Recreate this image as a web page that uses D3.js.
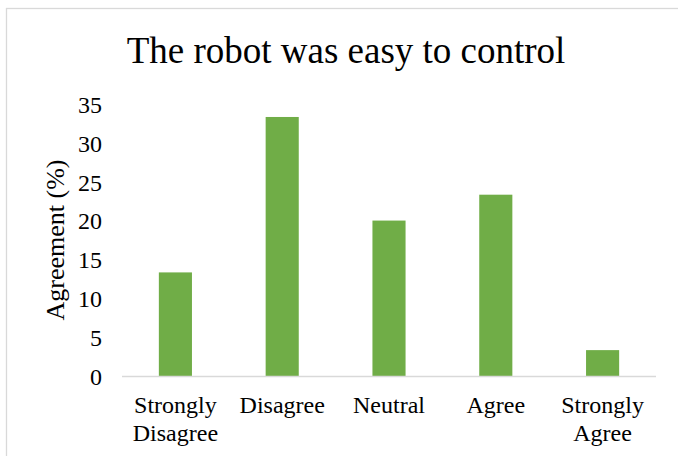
<!DOCTYPE html>
<html><head><meta charset="utf-8">
<script src="https://cdn.jsdelivr.net/npm/d3@7"></script>
<style>html,body{margin:0;padding:0;background:#fff;}svg{display:block;}</style>
</head><body>
<script>
const categories = [["Strongly","Disagree"],["Disagree"],["Neutral"],["Agree"],["Strongly","Agree"]];
const values = [13.33, 33.33, 20, 23.33, 3.33];
const yTicks = [0,5,10,15,20,25,30,35];
const title = "The robot was easy to control";
const yLabel = "Agreement (%)";

const W = 678, H = 456;
const svg = d3.select("body").append("svg").attr("width", W).attr("height", H);
const font = "Liberation Serif";

svg.append("rect").attr("x",6.5).attr("y",8.5).attr("width",W+10).attr("height",H+10)
  .attr("fill","#fff").attr("stroke","#d9d9d9").attr("stroke-width",1.3);

const x = d3.scaleBand().domain(d3.range(values.length)).range([122,656]).paddingInner(0.69).paddingOuter(0.345);
const y = d3.scaleLinear().domain([0,35]).range([376,104]);

svg.append("text").attr("x",346).attr("y",63).attr("text-anchor","middle")
  .style("font-family",font).attr("font-size",37).attr("fill","#000").text(title);

svg.selectAll("rect.bar").data(values).enter().append("rect").attr("class","bar")
  .attr("x",(d,i)=>x(i)).attr("width",x.bandwidth())
  .attr("y",d=>y(d)).attr("height",d=>y(0)-y(d)).attr("fill","#70AD47");

const yAxis = d3.axisLeft(y).tickValues(yTicks).tickSize(0).tickPadding(0);
const gy = svg.append("g").attr("transform","translate(102,0)").call(yAxis);
gy.select(".domain").remove();
gy.selectAll("text").style("font-family",font).attr("font-size",24).attr("fill","#000").attr("dy","0.35em");

svg.append("line").attr("x1",122).attr("x2",656).attr("y1",y(0)+0.5).attr("y2",y(0)+0.5)
  .attr("stroke","#d9d9d9").attr("stroke-width",1.5);

const gx = svg.append("g");
categories.forEach((lines,i)=>{
  const t = gx.append("text").attr("text-anchor","middle").style("font-family",font)
    .attr("font-size",24).attr("fill","#000");
  lines.forEach((ln,j)=>{
    t.append("tspan").attr("x",x(i)+x.bandwidth()/2).attr("y",413+j*28).text(ln);
  });
});

svg.append("text").attr("transform","translate(64,240) rotate(-90)").attr("text-anchor","middle")
  .style("font-family",font).attr("font-size",26).attr("fill","#000").text(yLabel);
</script>
</body></html>
